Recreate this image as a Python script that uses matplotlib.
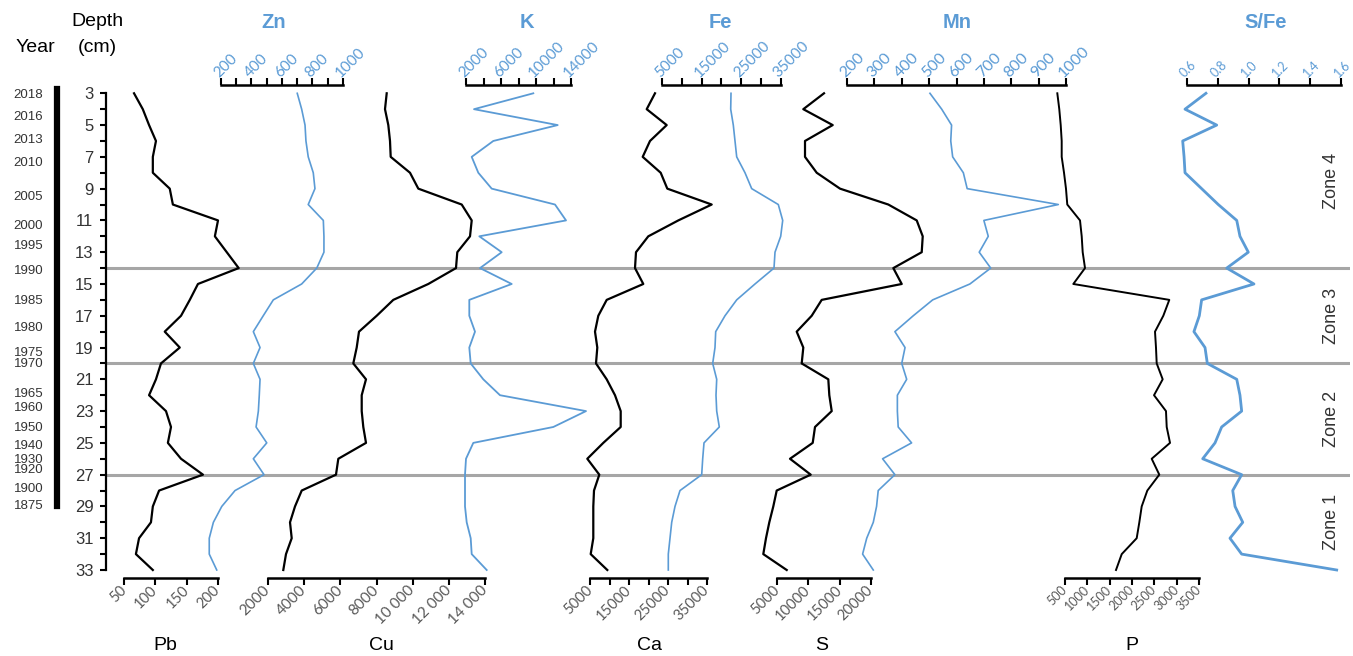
import matplotlib
matplotlib.use("Agg")
import matplotlib.pyplot as plt
from matplotlib.ticker import FixedLocator, FuncFormatter
from matplotlib.transforms import ScaledTranslation

# depth of each sample (cm)
depth = list(range(3, 34))

pb = [66, 80, 90, 101, 96, 96, 123, 128, 200, 195, 214, 233, 168, 155, 141, 115,
      139, 109, 101, 90, 117, 125, 120, 141, 176, 106, 96, 93, 74, 69, 96]
zn = [700, 729, 751, 757, 772, 805, 816, 772, 871, 875, 875, 828, 729, 543, 477, 412,
      456, 412, 456, 451, 445, 430, 500, 412, 482, 292, 205, 150, 123, 123, 172]
cu = [8564, 8470, 8653, 8747, 8785, 9853, 10312, 12712, 13265, 13171, 12468, 12396,
      10865, 8929, 8011, 7032, 6905, 6717, 7419, 7182, 7182, 7270, 7419, 5888, 5760,
      3864, 3493, 3217, 3311, 2995, 2846]
k = [9692, 2914, 12481, 5120, 2651, 3406, 4937, 12173, 13430, 3520, 6081, 3600, 7224,
     2377, 2377, 3029, 2377, 2537, 3977, 5886, 15716, 11978, 2834, 2000, 1886, 1886,
     1886, 2080, 2537, 2651, 4366]
ca = [21666, 19538, 24666, 20384, 18512, 23127, 24820, 36204, 27640, 19948, 16794,
      16538, 18666, 9282, 7128, 6282, 6872, 6538, 9282, 11410, 12871, 12871, 8410,
      4308, 7385, 6026, 5846, 5846, 5846, 5179, 9436]
fe = [22395, 22319, 22975, 23403, 23832, 25924, 27613, 34319, 35428, 34924, 33487,
      33235, 28445, 23832, 20882, 18538, 18361, 17781, 18790, 18613, 18790, 19445,
      15588, 15260, 15008, 9538, 8277, 7445, 7017, 6588, 6588]
s = [12501, 9197, 13890, 9469, 9469, 11336, 15055, 22763, 27296, 28254, 28094, 23561,
     24902, 12134, 10538, 8144, 9197, 8942, 13187, 13347, 13730, 11065, 10698, 7075,
     10379, 4952, 4409, 3771, 3244, 2813, 6548]
mn = [503, 546, 582, 579, 586, 625, 639, 972, 700, 716, 683, 725, 649, 513, 442, 375,
      412, 400, 418, 384, 384, 387, 436, 330, 375, 314, 308, 296, 272, 257, 296]
p = [328, 372, 404, 426, 426, 478, 522, 551, 836, 874, 896, 948, 686, 2835, 2701, 2515,
     2537, 2553, 2687, 2493, 2761, 2777, 2851, 2441, 2611, 2343, 2217, 2164, 2105,
     1770, 1642]
s_fe = [0.723, 0.587, 0.793, 0.572, 0.581, 0.587, 0.695, 0.803, 0.923, 0.944, 0.998,
        0.858, 1.035, 0.695, 0.680, 0.645, 0.717, 0.732, 0.923, 0.944, 0.955, 0.825,
        0.782, 0.702, 0.955, 0.897, 0.912, 0.962, 0.879, 0.955, 1.572]

years = [2018, 2016, 2013, 2010, 2005, 2000, 1995, 1990, 1985, 1980, 1975, 1970,
         1965, 1960, 1950, 1940, 1930, 1920, 1900, 1875]
year_depth = [3.0, 4.4, 5.85, 7.3, 9.45, 11.25, 12.5, 14.1, 16.0, 17.7, 19.25, 19.95,
              21.8, 22.7, 24.0, 25.1, 26.0, 26.6, 27.8, 28.9]

zone_breaks = [14, 20, 27]
zones = ["Zone 4", "Zone 3", "Zone 2", "Zone 1"]

BLUE = "#5b9bd5"
W, H = 1353, 656
Y_TOP, Y_BOT = 93.3, 570.0

plt.rcParams["font.family"] = ["Liberation Sans", "DejaVu Sans"]
fig = plt.figure(figsize=(W / 100, H / 100), dpi=100)


def px_axes(x0, x1):
    ax = fig.add_axes([x0 / W, 1 - Y_BOT / H, (x1 - x0) / W, (Y_BOT - Y_TOP) / H])
    ax.patch.set_visible(False)
    ax.set_ylim(33, 3)
    return ax


def fmt_space(v, pos):
    v = int(round(v))
    if v >= 10000:
        return f"{v // 1000} {v % 1000:03d}"
    return str(v)


def fmt_plain(v, pos):
    return str(int(round(v)))


# background axes with zone lines and labels
bg = px_axes(106, 1350)
bg.set_xlim(0, 1)
for sp in bg.spines.values():
    sp.set_visible(False)
bg.set_xticks([])
bg.set_yticks([])
for b in zone_breaks:
    bg.axhline(b, color="#a6a6a6", lw=2.2, zorder=0)
zone_edges = [3] + zone_breaks + [33]
for i, z in enumerate(zones):
    mid = (zone_edges[i] + zone_edges[i + 1]) / 2
    bg.text(0.985, mid, z, rotation=90, ha="center", va="center",
            fontsize=13, color="#333333")

# depth axis
dax = px_axes(106, 110)
for name in ["top", "right", "bottom"]:
    dax.spines[name].set_visible(False)
dax.spines["left"].set_linewidth(1.6)
dax.set_xticks([])
dax.set_yticks(range(3, 34, 2))
dax.set_yticks(range(4, 33, 2), minor=True)
dax.tick_params(axis="y", which="both", direction="out", length=4, width=1.5,
                labelsize=12, labelcolor="#333333", pad=5)

# year bar
yax = px_axes(57, 60)
for name in ["top", "right", "bottom"]:
    yax.spines[name].set_visible(False)
yax.spines["left"].set_linewidth(4.5)
yax.spines["left"].set_bounds(2.75, 29.0)
yax.set_xticks([])
yax.set_yticks(year_depth)
yax.set_yticklabels([str(y) for y in years])
yax.tick_params(axis="y", length=0, labelsize=9.5, labelcolor="#333333", pad=10)

# series: name, values, lo, hi, major, minor, side, colour, lw, x0, x1, label size, formatter
series = [
    ("Pb", pb, 50, 200, 50, None, "bottom", "black", 1.6, 124, 218, 10.5, fmt_plain),
    ("Zn", zn, 200, 1000, 200, 100, "top", BLUE, 1.2, 221, 343, 11, fmt_plain),
    ("Cu", cu, 2000, 14000, 2000, None, "bottom", "black", 1.6, 268, 485, 11, fmt_space),
    ("K", k, 2000, 14000, 4000, 2000, "top", BLUE, 1.3, 466, 571, 11, fmt_plain),
    ("Ca", ca, 5000, 35000, 10000, 5000, "bottom", "black", 1.6, 590, 707, 10.5, fmt_plain),
    ("Fe", fe, 5000, 35000, 10000, 5000, "top", BLUE, 1.2, 662, 781, 11, fmt_plain),
    ("S", s, 5000, 20000, 5000, None, "bottom", "black", 1.6, 777, 871, 10.5, fmt_plain),
    ("Mn", mn, 200, 1000, 100, None, "top", BLUE, 1.2, 847, 1066, 11.5, fmt_plain),
    ("P", p, 500, 3500, 500, None, "bottom", "black", 1.4, 1065, 1199, 9, fmt_plain),
    ("S/Fe", s_fe, 0.6, 1.6, 0.2, None, "top", BLUE, 2.0, 1187, 1341, 9,
     lambda v, pos: f"{v:.1f}"),
]

for name, vals, lo, hi, major, minor, side, col, lw, x0, x1, lsize, fmt in series:
    ax = px_axes(x0, x1)
    ax.plot(vals, depth, color=col, lw=lw, clip_on=False)
    ax.set_xlim(lo, hi)
    ax.set_yticks([])
    for sp in ["top", "bottom", "left", "right"]:
        ax.spines[sp].set_visible(sp == side)
    ax.spines[side].set_position(("outward", 6))
    ax.spines[side].set_linewidth(1.8)
    n = int(round((hi - lo) / major))
    majors = [lo + i * major for i in range(n + 1)]
    ax.xaxis.set_major_locator(FixedLocator(majors))
    if minor:
        m = int(round((hi - lo) / minor))
        ax.xaxis.set_minor_locator(FixedLocator([lo + i * minor for i in range(m + 1)]))
    ax.xaxis.set_major_formatter(FuncFormatter(fmt))
    if side == "top":
        ax.xaxis.tick_top()
        lcol = BLUE
    else:
        ax.xaxis.tick_bottom()
        lcol = "#595959"
    ax.tick_params(axis="x", which="both", direction="out", length=5, width=1.5,
                   labelsize=lsize, labelcolor=lcol, pad=2)
    shift = ScaledTranslation(-5 / 100, 0, fig.dpi_scale_trans)
    for lbl in ax.get_xticklabels():
        lbl.set_family(["Lato", "DejaVu Sans"])
        lbl.set_rotation(45)
        lbl.set_rotation_mode("anchor")
        lbl.set_va("center")
        if side == "top":
            lbl.set_ha("left")
            lbl.set_transform(lbl.get_transform() + shift)
        else:
            lbl.set_ha("right")

# element titles
top_titles = [("Zn", 274), ("K", 527), ("Fe", 720), ("Mn", 957), ("S/Fe", 1266)]
for t, x in top_titles:
    fig.text(x / W, 1 - 23 / H, t, color=BLUE, fontsize=14.5, fontweight="bold",
             ha="center", va="center")
bottom_titles = [("Pb", 165), ("Cu", 381), ("Ca", 650), ("S", 822), ("P", 1132)]
for t, x in bottom_titles:
    fig.text(x / W, 1 - 646 / H, t, color="black", fontsize=14,
             ha="center", va="center")

fig.text(97 / W, 1 - 22 / H, "Depth", fontsize=14, ha="center", va="center")
fig.text(97 / W, 1 - 47 / H, "(cm)", fontsize=14, ha="center", va="center")
fig.text(35 / W, 1 - 47 / H, "Year", fontsize=14, ha="center", va="center")

fig.savefig("out.png", dpi=100)
